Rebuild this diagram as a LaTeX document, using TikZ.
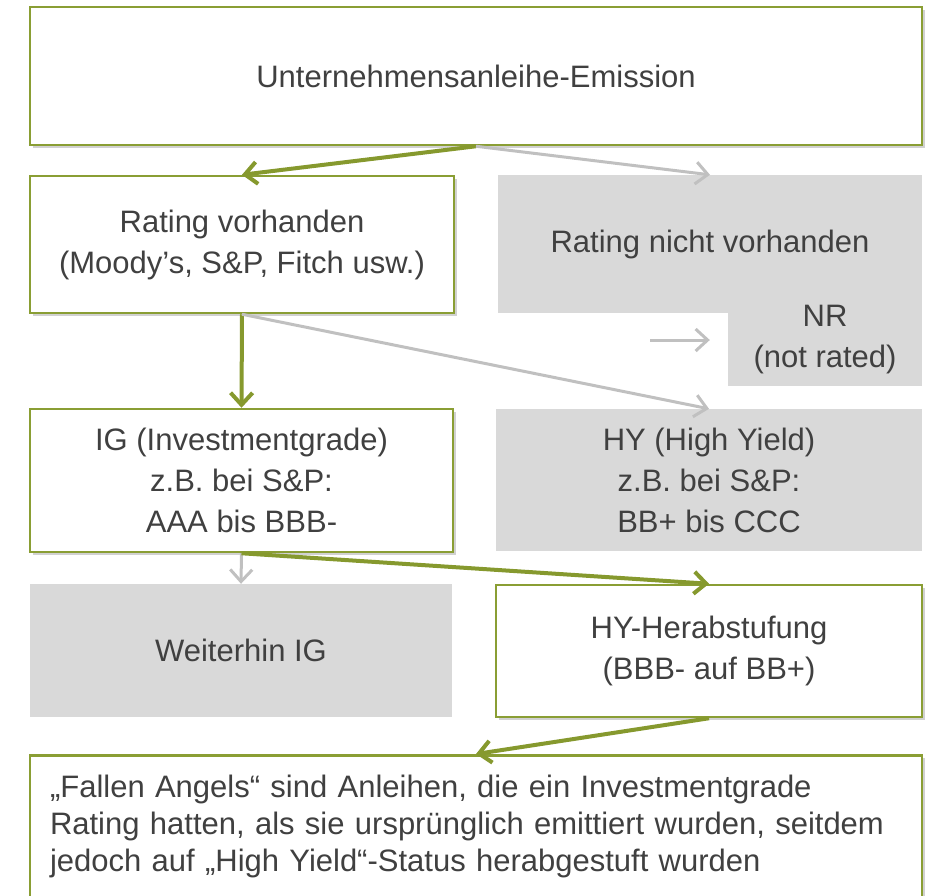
\documentclass[tikz,border=0pt]{standalone}
\usepackage{fontspec}
\setmainfont{Liberation Sans}
\usetikzlibrary{arrows.meta, shadows}
\definecolor{boxgreen}{RGB}{138, 158, 52}
\definecolor{arrowgreen}{RGB}{134, 153, 46}
\definecolor{lightgrey}{RGB}{217, 217, 217}
\definecolor{arrowgrey}{RGB}{192, 192, 192}
\definecolor{textgrey}{RGB}{64, 64, 64}

\begin{document}
\begin{tikzpicture}[x=1pt, y=-1pt,
  wbox/.style={draw=boxgreen, line width=2.5pt, fill=white, align=center, inner sep=0pt,
    drop shadow={shadow xshift=2.5pt, shadow yshift=-2.5pt, opacity=0.3, fill=black!60}},
  gbox/.style={fill=lightgrey, align=center, inner sep=0pt},
  garrow/.style={arrowgreen, line width=4pt, -{Straight Barb[length=12pt, width=22pt]}},
  grarrow/.style={arrowgrey, line width=3pt, -{Straight Barb[length=12pt, width=22pt]}},
  font=\fontsize{31}{41}\selectfont, text=textgrey
]
  \useasboundingbox (0,0) rectangle (934,895);

  \node[wbox, minimum width=892pt, minimum height=138pt] (emission) at (476,76) {Unternehmensanleihe-Emission};

  \node[wbox, minimum width=424pt, minimum height=137pt] (rated) at (242,244.5) {
    Rating vorhanden\\
    (Moody’s, S\&P, Fitch usw.)
  };
  \node[gbox, minimum width=424pt, minimum height=138pt] (unrated) at (710,244) {Rating nicht vorhanden};
  \node[gbox, minimum width=194pt, minimum height=92pt] (notrated) at (825,340) {
    NR\\
    (not rated)
  };

  \node[wbox, minimum width=423pt, minimum height=143pt] (invgrade) at (241.5,480.5) {
    IG (Investmentgrade)\\
    z.B. bei S\&P:\\
    AAA bis BBB-
  };
  \node[gbox, minimum width=426pt, minimum height=142pt] (highyield) at (709,480) {
    HY (High Yield)\\
    z.B. bei S\&P:\\
    BB+ bis CCC
  };

  \node[gbox, minimum width=422pt, minimum height=133pt] (stayig) at (241,650.5) {Weiterhin IG};
  \node[wbox, minimum width=426pt, minimum height=132pt] (downgrade) at (709,651) {
    HY-Herabstufung\\
    (BBB- auf BB+)
  };

  \node[wbox, anchor=north, minimum width=892pt, text width=852pt, align=left,
    inner xsep=20pt, inner ysep=20pt, text depth=100pt,
    font=\fontsize{31}{37}\selectfont] (angels) at (476,754) {
    „Fallen Angels“ sind Anleihen, die ein Investmentgrade\\
    Rating hatten, als sie ursprünglich emittiert wurden, seitdem\\
    jedoch auf „High Yield“-Status herabgestuft wurden
  };

  % connectors
  \draw[garrow] (emission.south) -- (rated.north);
  \draw[grarrow] (emission.south) -- (unrated.north);
  \draw[garrow] (rated.south) -- (invgrade.north);
  \draw[grarrow] (rated.south) -- (highyield.north);
  \coordinate (nrtail) at (650,340);
  \draw[grarrow] (nrtail) -- ([xshift=-18pt]notrated.west);
  \draw[grarrow] (invgrade.south) -- (stayig.north);
  \draw[garrow] (invgrade.south) -- (downgrade.north);
  \draw[garrow] (downgrade.south) -- (angels.north);
\end{tikzpicture}
\end{document}
